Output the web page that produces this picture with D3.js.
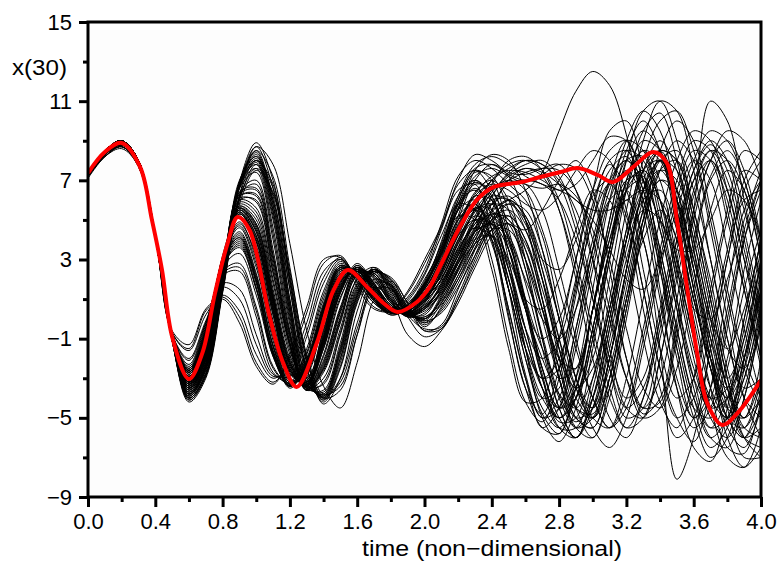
<!DOCTYPE html>
<meta charset="utf-8">
<title>x(30) ensemble</title>
<style>
body { margin: 0; background: #fff; }
.member { fill: none; stroke: #000; stroke-width: 1px; }
.truth { fill: none; stroke: #f00; stroke-width: 4px; stroke-linejoin: round; }
.axis text { font-family: "Liberation Sans", Arial, sans-serif; font-size: 22px; fill: #000; }
.axis line { stroke: #000; stroke-width: 3px; }
.axis path { display: none; }
.label { font-family: "Liberation Sans", Arial, sans-serif; font-size: 22px; fill: #000; }
</style>
<body>
<svg width="784" height="565"></svg>
<script src="https://d3js.org/d3.v7.min.js"></script>
<script>
// time axis of the ensemble output
var times = [0.0,0.1,0.2,0.3,0.4,0.5,0.6,0.7,0.8,0.9,1.0,1.1,1.2,1.3,1.4,1.5,1.6,1.7,1.8,1.9,2.0,
             2.1,2.2,2.3,2.4,2.5,2.6,2.7,2.8,2.9,3.0,3.1,3.2,3.3,3.4,3.5,3.6,3.7,3.8,3.9,4.0];

// ensemble members, x(30) at each time
var m01 = [7.3,8.4,8.9,7.9,4.2,-0.9,-3.1,-1.4,2.9,5.2,3.7,-0.1,-2.8,-3.0,-0.6,1.9,2.4,1.4,0.4,0.4,1.2, 2.7,4.4,5.8,6.6,6.9,7.0,6.8,6.0,4.0,1.0,-2.5,-5.0,-4.5,-1.0,3.0,6.5,8.5,8.0,5.5,2.0];
var m02 = [7.4,8.5,8.9,7.9,4.3,-0.8,-2.9,-1.1,3.1,4.9,3.0,-0.8,-3.2,-2.7,0.1,2.3,2.2,1.1,0.4,0.6,1.5, 2.8,4.5,5.5,4.8,2.0,-1.5,-4.0,-5.0,-3.5,0.5,5.0,8.5,10.0,8.5,4.5,0.0,-3.5,-5.0,-3.5,0.5];
var m03 = [7.3,8.4,8.8,7.8,4.1,-1.0,-3.0,-1.2,3.2,5.4,3.6,-0.3,-3.0,-3.1,-0.5,2.0,2.5,1.5,0.5,0.3,1.1, 2.9,4.8,6.2,6.0,4.0,1.0,-1.5,-3.0,-2.5,0.5,4.0,6.8,7.5,6.0,3.0,0.5,0.0,2.0,5.0,7.5];
var m04 = [7.3,8.3,8.8,7.9,4.2,-0.9,-3.0,-1.4,2.8,4.8,3.2,-0.6,-3.1,-2.8,-0.1,2.2,2.1,1.0,0.2,0.5,1.4, 2.6,4.2,5.0,4.2,1.5,-2.0,-4.5,-5.5,-4.0,-0.5,3.5,6.5,7.0,4.5,0.5,-3.5,-6.0,-6.5,-4.0,0.0];
var m05 = [7.4,8.5,9.0,8.0,4.2,-0.9,-3.1,-1.3,3.0,5.3,3.9,0.2,-2.6,-3.2,-0.9,1.7,2.5,1.6,0.6,0.4,1.1, 2.8,4.7,6.3,7.2,7.5,7.4,7.0,6.5,6.8,8.0,9.2,9.0,7.0,3.5,-0.5,-4.0,-5.5,-4.0,-0.5,3.5];
var m06 = [7.4,8.5,9.0,8.0,4.3,-0.8,-3.3,-1.8,2.6,5.8,5.2,1.5,-2.0,-3.4,-1.5,1.3,2.6,1.8,0.7,0.3,0.9, 1.8,3.4,4.8,5.2,3.8,0.8,-2.8,-5.2,-5.0,-1.5,3.0,7.0,9.0,8.5,5.5,1.5,-2.0,-4.0,-2.5,1.5];
var m07 = [7.3,8.4,8.9,7.9,4.2,-0.9,-3.4,-1.9,2.5,6.0,5.6,2.0,-1.6,-3.5,-1.9,1.0,2.6,2.0,0.8,0.2,0.7, 2.0,3.8,5.5,6.5,7.0,7.4,7.6,7.5,6.5,4.0,0.5,-3.0,-5.0,-4.5,-1.0,3.5,7.0,8.0,6.5,3.0];
var m08 = [7.4,8.5,8.9,7.9,4.2,-0.9,-3.2,-1.7,2.7,5.6,4.8,1.0,-2.3,-3.4,-1.2,1.5,2.7,1.7,0.6,0.4,1.1, 1.9,3.5,4.6,4.0,1.5,-2.0,-4.8,-5.8,-3.5,0.5,5.0,8.0,8.2,5.5,1.0,-3.0,-5.5,-5.0,-2.0,2.5];
var m09 = [7.3,8.4,8.9,8.0,4.3,-0.8,-3.3,-1.9,2.5,5.9,5.4,1.8,-1.8,-3.6,-1.8,1.1,2.4,1.9,0.9,0.1,0.6, 1.7,3.2,4.4,4.8,4.0,2.0,0.0,-1.0,0.5,3.5,6.5,8.5,8.0,5.0,1.0,-2.5,-4.5,-4.0,-1.0,3.0];
var m10 = [7.4,8.5,9.0,8.0,4.2,-0.9,-3.4,-1.8,2.6,5.7,5.0,1.3,-2.2,-3.3,-1.3,1.4,2.8,1.8,0.5,0.3,1.0, 2.0,3.9,5.4,6.2,6.0,4.5,2.0,-1.0,-3.5,-4.5,-2.5,1.5,5.5,8.0,8.5,6.5,3.0,-1.0,-4.0,-5.0];
var m11 = [7.3,8.4,8.9,7.9,4.1,-1.0,-3.6,-2.2,2.2,6.6,7.4,4.0,-0.8,-3.5,-3.0,-0.5,2.0,2.4,1.2,0.2,0.4, 1.3,2.8,4.2,4.9,4.2,1.8,-1.5,-4.5,-6.0,-4.5,-0.5,4.0,7.5,8.5,6.5,2.5,-1.5,-4.5,-5.0,-2.0];
var m12 = [7.4,8.5,9.0,8.0,4.2,-1.0,-3.7,-2.3,2.0,6.8,7.8,4.6,-0.3,-3.4,-3.3,-0.8,1.8,2.5,1.4,0.3,0.2, 1.5,3.2,5.0,6.4,7.3,7.8,8.0,7.2,5.0,1.5,-2.0,-4.0,-3.0,0.5,4.5,7.5,8.8,7.5,4.0,0.0];
var m13 = [7.3,8.4,8.9,7.9,4.1,-1.0,-3.5,-2.1,2.3,6.4,7.0,3.5,-1.2,-3.6,-2.7,-0.2,2.2,2.3,1.1,0.2,0.5, 1.2,2.6,3.8,4.2,3.0,0.5,-2.5,-4.5,-4.0,-1.0,3.5,8.0,10.5,11.0,9.0,5.5,2.0,-1.5,-2.5,-0.5];
var m14 = [7.4,8.5,9.0,8.0,4.2,-1.1,-3.6,-2.2,2.1,6.7,7.6,4.3,-0.6,-3.6,-3.2,-0.7,2.0,2.6,1.3,0.1,0.3, 1.4,3.0,4.6,5.3,4.8,2.5,-0.8,-3.8,-5.2,-4.0,-0.5,3.5,6.0,6.5,4.5,1.0,-2.5,-5.5,-6.5,-4.5];
var m15 = [7.3,8.4,8.9,7.9,4.1,-1.0,-3.5,-2.0,2.4,6.3,6.8,3.2,-1.4,-3.6,-2.5,0.0,2.3,2.2,1.0,0.3,0.6, 1.3,2.9,4.4,5.5,6.0,6.5,7.4,9.5,11.5,12.5,11.8,9.3,5.5,1.0,-3.0,-5.0,-3.5,0.5,4.5,7.0];
var m16 = [7.4,8.5,9.0,8.0,4.2,-1.0,-3.9,-2.6,1.8,6.9,8.9,7.0,2.0,-2.5,-4.2,-2.5,0.8,2.4,2.0,0.6,-0.3, 0.5,2.0,3.8,5.2,5.8,5.0,2.5,-1.0,-4.5,-6.0,-4.0,0.0,4.5,7.5,8.0,5.5,1.5,-2.5,-5.0,-4.0];
var m17 = [7.4,8.5,9.0,8.0,4.2,-1.1,-4.0,-2.7,1.6,6.8,8.7,6.6,1.5,-2.8,-4.1,-2.2,1.0,2.5,1.9,0.5,-0.2, 0.8,2.5,4.5,6.2,7.4,8.0,7.8,7.0,5.5,3.0,0.0,-3.0,-4.5,-3.0,1.0,5.0,8.0,9.0,7.5,4.0];
var m18 = [7.3,8.4,8.9,7.9,4.1,-1.0,-3.8,-2.5,1.9,7.0,8.2,6.2,1.0,-3.0,-4.0,-2.0,1.2,2.6,1.8,0.4,-0.1, 0.3,1.6,3.2,4.5,4.8,3.5,0.5,-3.0,-5.5,-6.0,-3.5,0.5,5.0,8.5,10.0,9.0,5.5,1.5,-2.0,-4.0];
var m19 = [7.4,8.5,9.0,8.0,4.2,-1.0,-4.0,-2.8,1.5,6.6,8.5,7.2,2.6,-2.0,-4.3,-3.0,0.4,2.3,2.1,0.8,-0.4, 0.6,2.2,4.0,5.3,5.0,3.0,0.0,-3.0,-5.0,-4.5,-1.0,3.0,5.5,5.0,2.5,-1.0,-4.5,-7.0,-7.5,-5.5];
var m20 = [7.3,8.4,8.9,7.9,4.2,-1.0,-3.9,-2.6,1.7,6.8,8.0,6.8,1.8,-2.6,-4.1,-2.4,0.9,2.4,2.0,0.6,-0.2, 0.4,1.8,3.6,5.0,5.5,4.5,2.0,-1.5,-3.5,-2.0,2.0,6.5,9.5,10.4,8.0,3.5,-1.5,-5.0,-6.0,-3.5];
var m21 = [7.2,8.3,8.8,7.8,4.1,-0.8,-2.5,-0.4,2.4,2.8,0.6,-2.4,-3.3,-1.8,1.0,2.7,2.2,1.0,0.3,0.6,1.8, 3.8,5.8,6.5,5.2,1.5,-2.8,-5.0,-4.0,-0.5,3.5,6.8,8.0,6.5,2.5,-2.0,-5.0,-4.0,0.0,4.0,6.5];
var m22 = [7.2,8.3,8.8,7.8,4.1,-0.8,-2.6,-0.6,2.6,3.3,1.2,-1.9,-3.4,-2.1,0.6,2.6,2.3,1.1,0.3,0.5,1.7, 3.6,6.0,7.6,7.8,7.3,7.0,7.3,7.8,7.6,6.0,3.0,-0.5,-3.5,-4.5,-2.5,1.5,5.5,7.5,6.5,3.0];
var m23 = [7.2,8.3,8.7,7.8,4.2,-0.8,-2.3,-0.2,2.2,2.4,0.1,-2.7,-3.2,-1.5,1.4,2.9,2.1,0.9,0.3,0.7,2.0, 3.5,5.2,5.0,2.5,-1.5,-4.2,-4.0,-1.0,3.0,6.2,7.0,4.8,0.5,-3.5,-6.0,-5.0,-1.5,3.0,6.5,8.0];
var m24 = [7.3,8.3,8.8,7.8,4.1,-0.8,-2.7,-0.7,2.7,3.6,1.5,-1.6,-3.5,-2.3,0.4,2.5,2.3,1.2,0.3,0.5,1.6, 3.9,6.2,7.0,6.0,3.5,1.0,0.5,2.0,4.5,6.5,6.0,3.0,-1.0,-4.2,-5.5,-3.0,1.5,5.5,8.5,8.0];
var m25 = [7.2,8.3,8.8,7.8,4.1,-0.8,-2.4,-0.3,2.3,2.6,0.4,-2.5,-3.3,-1.7,1.2,2.8,2.2,0.9,0.2,0.6,1.9, 3.7,5.5,6.0,4.0,0.0,-3.5,-5.5,-5.8,-3.0,1.5,6.0,9.0,10.5,9.5,6.0,1.5,-2.5,-4.5,-3.0,1.0];
var m26 = [7.2,8.2,8.7,7.7,4.2,-0.7,-1.6,0.2,1.2,0.4,-1.8,-3.0,-2.3,-0.2,2.4,3.0,1.9,0.8,0.4,1.1,2.5, 4.8,7.2,8.0,7.6,6.8,6.0,4.2,0.5,-3.0,-4.5,-2.0,2.5,6.5,8.0,6.0,1.5,-2.5,-4.0,-1.5,3.0];
var m27 = [7.2,8.2,8.7,7.7,4.2,-0.8,-2.0,-0.1,1.6,1.0,-1.3,-2.9,-2.6,-0.6,2.1,3.1,2.0,0.8,0.3,1.0,2.3, 4.5,6.5,6.8,4.5,0.2,-3.5,-4.8,-2.5,1.8,5.8,7.8,6.5,2.5,-1.5,-4.0,-3.0,1.0,5.0,7.5,7.0];
var m28 = [7.1,8.2,8.7,7.7,4.2,-0.6,-1.3,0.5,1.1,0.1,-2.2,-3.2,-2.0,0.3,2.8,3.2,1.8,0.6,0.4,1.3,2.8, 4.6,7.0,8.3,8.0,7.4,7.3,7.6,7.8,6.5,3.0,-1.5,-4.5,-5.0,-2.0,2.5,6.2,8.0,6.0,2.0,-2.0];
var m29 = [7.2,8.3,8.7,7.7,4.1,-0.8,-2.1,-0.2,1.8,1.5,-0.8,-2.8,-2.9,-0.9,1.8,3.0,2.1,0.9,0.3,0.9,2.2, 4.2,5.8,5.5,3.0,-1.0,-4.2,-5.2,-3.0,1.2,5.0,6.8,5.2,1.5,-2.5,-5.0,-6.2,-3.5,1.5,5.5,7.0];
var m30 = [7.2,8.2,8.6,7.7,4.2,-0.7,-1.5,0.4,1.0,-0.2,-2.4,-3.3,-1.8,0.6,3.0,3.1,1.6,0.5,0.4,1.4,3.0, 4.7,6.8,7.5,6.5,5.0,4.5,5.5,7.0,8.0,6.5,2.5,-2.0,-4.8,-4.0,0.0,5.5,11.0,10.0,6.0,1.5];
var m31 = [7.3,8.4,8.9,7.9,4.2,-0.9,-3.2,-1.5,2.8,5.5,4.2,0.6,-2.6,-3.3,-1.0,1.8,2.5,1.6,0.6,0.3,1.0, 2.2,4.0,5.5,5.8,4.0,0.5,-3.0,-5.0,-4.0,-0.5,3.5,6.5,7.5,6.0,2.5,-1.5,-4.0,-3.5,0.0,4.0];
var m32 = [7.3,8.4,8.9,7.9,4.2,-0.9,-3.2,-1.6,2.7,5.4,4.0,0.4,-2.7,-3.2,-0.8,1.9,2.4,1.5,0.5,0.4,1.2, 2.4,4.3,6.0,7.0,7.6,8.0,7.8,6.8,4.5,1.0,-2.5,-4.5,-3.5,0.0,4.0,7.5,9.0,8.0,4.5,0.5];
var m33 = [7.4,8.5,8.9,7.9,4.2,-0.8,-3.1,-1.4,2.9,5.6,4.4,0.8,-2.5,-3.4,-1.1,1.6,2.6,1.7,0.6,0.2,0.8, 2.0,3.6,4.6,4.2,2.0,-1.0,-3.5,-4.5,-3.0,0.5,4.5,8.0,9.5,8.5,5.0,1.0,-2.0,-3.5,-2.0,1.5];
var m34 = [7.3,8.4,8.9,7.9,4.2,-0.9,-3.3,-1.6,2.7,5.5,4.5,1.0,-2.3,-3.4,-1.3,1.5,2.6,1.7,0.7,0.3,0.9, 2.3,4.2,5.6,5.5,3.5,0.5,-2.0,-3.8,-4.5,-3.0,0.5,4.0,6.5,7.5,6.0,3.0,0.0,-1.5,0.5,4.0];
var m35 = [7.3,8.4,8.8,7.9,4.2,-0.9,-3.2,-1.5,2.8,5.3,3.9,0.2,-2.8,-3.2,-0.7,2.0,2.4,1.4,0.5,0.5,1.3, 2.1,3.8,5.0,4.8,2.8,-0.5,-3.5,-5.5,-5.5,-3.0,1.0,5.5,9.0,11.0,10.5,7.5,3.0,-1.0,-3.5,-3.0];
var m36 = [7.3,8.3,8.8,7.8,4.2,-0.8,-2.8,-0.9,3.0,4.4,2.3,-1.4,-3.3,-2.5,0.3,2.4,2.3,1.2,0.4,0.7,1.6, 3.3,5.5,6.8,6.5,4.2,0.8,-2.5,-4.5,-3.5,0.5,4.5,7.0,7.2,4.5,0.5,-3.0,-4.5,-2.0,2.5,6.0];
var m37 = [7.3,8.3,8.8,7.8,4.2,-0.8,-2.9,-1.0,3.0,4.6,2.6,-1.1,-3.3,-2.6,0.1,2.3,2.3,1.2,0.4,0.6,1.5, 3.0,5.0,5.5,3.8,0.5,-3.0,-5.5,-4.5,-1.0,3.0,6.0,6.5,4.0,0.0,-3.5,-5.5,-4.5,-0.5,4.0,7.0];
var m38 = [7.3,8.3,8.8,7.8,4.2,-0.8,-2.7,-0.8,2.9,4.2,2.0,-1.7,-3.4,-2.3,0.5,2.5,2.2,1.1,0.4,0.7,1.7, 3.2,5.6,7.2,7.6,7.2,6.8,6.6,6.8,6.2,4.5,1.5,-2.0,-4.5,-4.2,-0.5,4.0,7.2,8.5,7.0,3.5];
var m39 = [7.3,8.4,8.8,7.8,4.2,-0.8,-2.9,-1.1,3.1,4.7,2.8,-0.9,-3.2,-2.7,-0.1,2.2,2.4,1.3,0.4,0.6,1.5, 3.1,5.0,5.8,4.5,1.5,-1.5,-3.0,-2.0,1.5,5.0,7.5,8.2,6.0,1.5,-3.5,-6.5,-7.2,-4.5,0.0,4.0];
var m40 = [7.3,8.3,8.8,7.8,4.2,-0.7,-2.8,-0.8,2.9,4.1,1.9,-1.8,-3.4,-2.2,0.6,2.6,2.2,1.0,0.3,0.8,1.8, 3.3,5.8,7.0,6.2,3.5,0.5,-1.0,0.0,3.0,6.5,9.5,10.0,7.5,3.0,-1.5,-4.5,-5.0,-2.5,1.5,4.5];
var m41 = [7.4,8.5,9.0,8.0,4.2,-1.1,-4.1,-2.9,1.5,6.2,8.0,6.6,2.2,-2.0,-4.0,-3.6,-0.8,1.8,1.7,0.5,-0.6, -0.5,1.0,3.0,4.8,5.8,5.5,3.5,0.0,-3.5,-5.0,-3.0,1.0,5.0,7.0,6.5,3.5,-0.5,-4.0,-6.0,-5.5];
var m42 = [7.4,8.5,9.0,8.0,4.2,-1.1,-4.2,-3.0,1.3,6.2,8.7,7.8,3.8,-0.6,-3.4,-4.5,-2.2,1.0,1.9,0.8,-0.6, -0.3,1.5,3.5,5.5,7.0,7.6,7.2,5.5,2.5,-1.0,-4.0,-5.5,-4.0,-0.5,3.5,7.0,8.5,7.0,3.5,-0.5];
var m43 = [7.4,8.5,9.0,8.0,4.2,-1.1,-4.0,-2.8,1.4,5.8,7.5,6.3,2.0,-2.2,-3.9,-3.2,-0.5,1.6,1.0,-0.8,-1.4, -0.6,0.8,2.6,4.2,4.8,3.8,1.0,-2.5,-5.0,-5.5,-3.0,1.0,4.0,5.5,4.0,0.5,-3.5,-6.5,-6.8,-4.0];
var m44 = [7.4,8.5,9.0,8.0,4.2,-1.0,-4.0,-2.8,1.6,6.0,7.8,6.0,1.5,-2.5,-4.0,-3.0,-0.2,2.0,1.6,0.2,-0.5, -0.4,1.2,3.2,5.0,6.0,5.2,2.5,-1.5,-4.5,-5.0,-2.0,2.5,6.5,8.0,6.5,2.5,-2.0,-6.0,-7.5,-6.5];
var m45 = [7.4,8.5,9.0,8.0,4.3,-1.1,-4.1,-2.9,1.4,6.1,7.6,6.4,2.4,-1.8,-3.8,-3.4,-0.8,1.5,1.5,0.1,-0.9, -0.5,1.0,2.8,4.5,5.2,4.0,1.0,-2.0,-2.5,0.5,4.0,6.0,4.0,-1.5,-8.1,-6.0,-1.5,3.0,6.0,6.5];
var m46 = [7.3,8.4,8.9,7.9,4.2,-0.9,-3.2,-1.6,2.8,5.5,4.4,0.7,-2.5,-3.3,-1.1,1.7,2.5,1.6,0.6,0.3,1.0, 2.6,5.0,7.0,7.8,7.2,5.0,1.0,-3.0,-5.5,-5.0,-2.0,2.0,5.5,7.5,7.0,4.0,0.0,-3.5,-5.5,-4.0];
var m47 = [7.3,8.4,8.9,7.9,4.2,-0.9,-3.3,-1.7,2.7,5.6,4.6,0.9,-2.4,-3.4,-1.2,1.6,2.6,1.6,0.6,0.2,0.9, 2.3,4.5,6.4,7.0,6.0,3.0,-1.0,-4.5,-6.0,-4.0,0.0,4.0,7.0,8.5,8.0,5.0,1.0,-3.0,-5.5,-6.0];
var m48 = [7.4,8.5,8.9,7.9,4.2,-0.9,-3.2,-1.5,2.9,5.4,4.2,0.5,-2.6,-3.3,-1.0,1.8,2.5,1.5,0.5,0.3,1.1, 2.5,4.6,6.2,6.8,6.5,5.8,5.5,6.2,7.5,8.5,8.0,5.5,1.5,-2.5,-5.0,-4.0,-0.5,3.5,7.0,8.5];
var m49 = [7.3,8.4,8.8,7.9,4.2,-0.8,-3.1,-1.5,2.8,5.3,4.1,0.4,-2.7,-3.2,-0.9,1.9,2.4,1.5,0.5,0.4,1.1, 2.2,4.0,5.2,4.6,2.0,-1.5,-4.0,-3.5,-0.5,3.5,7.0,9.0,8.5,6.0,2.0,-2.0,-5.0,-6.0,-4.0,0.0];
var m50 = [7.3,8.4,8.9,7.9,4.2,-0.9,-3.3,-1.7,2.6,5.6,4.7,1.1,-2.2,-3.4,-1.4,1.4,2.6,1.7,0.7,0.3,0.9, 2.4,4.4,5.6,5.0,2.5,-0.5,-2.0,-1.0,2.0,5.5,8.0,8.5,6.5,3.0,-1.0,-4.5,-6.5,-5.5,-2.0,2.0];
var m51 = [7.4,8.5,9.0,8.0,4.2,-0.9,-3.2,-1.6,2.8,5.7,4.8,1.2,-2.1,-3.5,-1.5,1.3,2.7,1.8,0.7,0.2,0.8, 2.7,5.2,7.5,8.3,8.0,6.5,3.5,0.0,-3.0,-5.0,-5.5,-3.0,1.0,5.0,8.0,9.5,9.0,6.5,3.0,-1.0];
var m52 = [7.4,8.5,9.0,8.0,4.2,-0.9,-3.5,-2.0,2.4,6.2,6.2,2.6,-1.2,-3.6,-2.3,0.4,2.4,2.2,0.9,0.2,0.6, 1.6,3.2,4.8,5.8,5.5,3.5,0.5,-2.5,-4.5,-4.8,-2.0,2.5,6.5,8.5,8.0,5.0,1.0,-3.0,-6.0,-7.0];
var m53 = [7.3,8.4,8.9,7.9,4.2,-1.0,-3.5,-2.0,2.3,6.3,6.5,3.0,-0.9,-3.6,-2.5,0.1,2.3,2.3,1.0,0.2,0.5, 1.8,3.6,5.6,7.0,7.8,8.0,7.5,6.0,3.0,-0.5,-3.5,-5.5,-5.0,-2.0,2.0,5.5,8.0,9.5,9.0,7.0];
var m54 = [7.4,8.5,9.0,8.0,4.2,-0.9,-3.4,-1.9,2.5,6.1,5.9,2.3,-1.4,-3.5,-2.1,0.6,2.5,2.1,0.8,0.3,0.7, 1.5,3.0,4.4,4.8,3.5,0.5,-3.0,-5.5,-6.0,-3.5,0.5,4.5,7.5,8.0,6.0,2.5,-1.0,-3.0,-1.0,3.0];
var m55 = [7.3,8.4,8.9,7.9,4.1,-1.0,-3.6,-2.1,2.3,6.4,6.6,3.2,-0.7,-3.5,-2.6,-0.1,2.2,2.3,1.1,0.2,0.5, 1.7,3.4,5.0,6.0,6.0,4.8,3.0,2.5,4.0,6.5,8.5,9.0,7.0,3.5,-0.5,-4.0,-6.0,-5.0,-2.0,1.5];
var m56 = [7.4,8.5,9.0,8.0,4.2,-0.9,-3.5,-2.0,2.4,6.0,6.0,2.4,-1.3,-3.6,-2.2,0.5,2.5,2.1,0.8,0.2,0.6, 1.6,3.3,5.2,6.5,7.0,6.5,4.5,1.5,-1.5,-4.0,-5.5,-4.5,-1.0,3.0,6.5,8.5,8.0,5.0,1.5,-2.0];
var m57 = [7.3,8.4,8.9,7.9,4.2,-0.9,-3.4,-1.9,2.5,6.2,6.3,2.8,-1.0,-3.6,-2.4,0.3,2.4,2.2,0.9,0.1,0.5, 1.4,2.8,4.0,4.2,2.5,-0.5,-3.5,-5.0,-4.0,-0.5,3.5,7.0,8.5,7.0,3.0,-1.0,-4.0,-5.0,-3.0,0.5];
var m58 = [7.2,8.3,8.8,7.8,4.1,-0.7,-2.6,-0.6,2.8,3.9,1.8,-1.7,-3.4,-2.2,0.6,2.6,2.2,1.0,0.3,0.6,1.7, 3.4,5.8,7.4,7.2,5.5,2.5,-1.0,-4.0,-5.5,-4.5,-1.5,2.5,6.0,8.0,7.5,4.5,0.5,-3.5,-6.0,-6.5];
var m59 = [7.2,8.3,8.8,7.8,4.1,-0.7,-2.7,-0.7,2.9,4.1,2.1,-1.4,-3.4,-2.4,0.4,2.5,2.3,1.1,0.3,0.6,1.6, 3.6,6.2,7.8,8.2,7.8,7.2,6.8,6.5,6.0,5.0,3.5,2.0,1.5,3.0,5.5,8.0,9.5,9.0,7.0,4.0];
var m60 = [7.2,8.3,8.8,7.8,4.2,-0.7,-2.5,-0.5,2.7,3.7,1.5,-1.9,-3.4,-2.0,0.8,2.7,2.2,1.0,0.3,0.7,1.8, 3.2,5.2,5.8,4.0,0.5,-3.0,-5.0,-4.5,-1.5,2.5,6.0,7.5,6.0,2.5,-1.5,-5.0,-7.0,-6.0,-2.5,2.0];
var m61 = [7.3,8.3,8.8,7.8,4.1,-0.8,-2.7,-0.8,2.9,4.3,2.2,-1.3,-3.3,-2.5,0.3,2.4,2.3,1.2,0.4,0.6,1.6, 3.5,6.0,7.5,7.0,4.5,1.0,-2.5,-5.0,-6.0,-4.0,0.0,4.0,7.5,9.0,7.5,4.0,0.0,-3.5,-5.0,-3.0];
var m62 = [7.2,8.3,8.8,7.8,4.1,-0.7,-2.6,-0.5,2.7,3.8,1.6,-1.8,-3.4,-2.1,0.7,2.7,2.2,0.9,0.3,0.7,1.8, 3.3,5.5,6.6,5.5,2.5,-1.0,-3.0,-2.5,0.5,4.0,7.0,8.0,7.0,5.0,3.5,3.5,5.0,6.5,6.0,4.0];
var m63 = [7.2,8.3,8.8,7.8,4.1,-0.7,-2.6,-0.6,2.8,4.0,1.9,-1.6,-3.4,-2.3,0.5,2.6,2.2,1.0,0.3,0.6,1.7, 3.4,5.6,6.9,6.2,3.0,-1.5,-5.0,-6.2,-4.5,-1.0,3.0,6.5,8.5,8.0,5.5,2.0,-2.0,-5.0,-6.0,-4.5];
var m64 = [7.4,8.5,9.0,8.0,4.2,-1.0,-3.8,-2.4,2.0,6.8,8.2,5.5,0.4,-3.3,-3.8,-1.6,1.4,2.5,1.6,0.3,0.0, 1.0,2.5,4.2,5.8,6.8,6.8,5.5,2.5,-1.0,-4.0,-5.5,-4.0,-0.5,3.5,7.0,9.0,8.5,5.5,1.5,-2.5];
var m65 = [7.4,8.5,9.0,8.0,4.2,-1.0,-3.7,-2.3,2.1,6.7,8.0,5.2,0.1,-3.4,-3.7,-1.4,1.6,2.5,1.5,0.3,0.1, 0.8,2.2,3.8,5.0,5.2,4.0,1.5,-1.5,-4.0,-5.0,-3.5,0.5,4.5,7.5,9.0,8.0,4.5,0.0,-4.0,-6.0];
var m66 = [7.3,8.4,8.9,7.9,4.2,-1.0,-3.8,-2.5,1.9,6.9,8.4,5.8,0.7,-3.2,-3.9,-1.8,1.2,2.5,1.7,0.4,-0.1, 1.1,2.8,4.6,6.2,7.2,7.6,7.4,6.8,6.0,5.5,5.5,6.0,6.5,6.0,4.0,1.0,-2.5,-5.0,-5.5,-3.0];
var m67 = [7.4,8.5,9.0,8.0,4.2,-1.0,-3.7,-2.3,2.1,6.6,7.9,5.0,-0.1,-3.5,-3.6,-1.2,1.7,2.4,1.4,0.2,0.1, 0.9,2.4,4.0,5.4,6.0,5.2,3.0,0.0,-3.0,-5.5,-6.5,-5.0,-1.5,2.5,6.0,8.0,7.0,3.5,-0.5,-4.0];
var m68 = [7.4,8.5,9.0,8.0,4.2,-1.1,-3.9,-2.5,1.9,6.8,8.3,5.7,0.6,-3.2,-3.9,-1.7,1.3,2.5,1.7,0.4,0.0, 1.0,2.6,4.4,5.8,6.2,5.0,2.0,-2.0,-5.0,-5.5,-3.0,1.0,5.0,7.0,6.0,3.0,-1.0,-4.5,-7.0,-7.0];
var m69 = [7.3,8.4,8.9,7.9,4.2,-1.0,-3.8,-2.4,2.0,6.7,8.1,5.4,0.3,-3.3,-3.8,-1.5,1.5,2.5,1.6,0.3,0.0, 0.7,2.0,3.5,4.5,4.5,3.0,0.5,-2.0,-3.5,-2.5,0.5,4.5,8.0,10.0,10.5,8.5,5.0,1.0,-2.5,-4.5];
var m70 = [7.4,8.5,9.0,8.0,4.2,-1.0,-3.8,-2.4,2.0,6.9,8.5,6.0,0.9,-3.0,-4.0,-2.0,1.1,2.5,1.8,0.5,0.0, 1.2,3.0,5.0,6.8,8.0,8.2,7.5,5.5,2.0,-2.0,-5.0,-6.0,-4.0,0.0,4.0,7.0,8.0,6.5,3.0,0.0];

var members = [m01,m02,m03,m04,m05,m06,m07,m08,m09,m10,m11,m12,m13,m14,m15,
               m16,m17,m18,m19,m20,m21,m22,m23,m24,m25,m26,m27,m28,m29,m30,
               m31,m32,m33,m34,m35,m36,m37,m38,m39,m40,m41,m42,m43,m44,m45,
               m46,m47,m48,m49,m50,m51,m52,m53,m54,m55,m56,m57,m58,m59,m60,
               m61,m62,m63,m64,m65,m66,m67,m68,m69,m70];

// the red trajectory, read at its own times
var redT = [0,0.1,0.2,0.31,0.38,0.44,0.5,0.6,0.68,0.755,0.83,0.89,0.96,1.08,1.16,1.24,1.36,1.46,1.545,1.66,1.755,1.84,1.955,2.03,2.09,2.21,2.31,2.41,2.57,2.69,2.81,2.91,3.03,3.12,3.24,3.36,3.44,3.5,3.56,3.62,3.68,3.77,3.86,4.0];
var redX = [7.37,8.43,8.89,7.67,5.0,2.47,-0.9,-3.04,-1.72,1.3,3.83,5.15,4.49,0.09,-2.23,-3.44,-1.22,1.46,2.47,1.6,0.8,0.35,0.85,1.6,2.6,4.64,6.0,6.66,6.9,7.17,7.42,7.62,7.27,6.91,7.67,8.43,7.87,5.0,1.6,-1.72,-4.25,-5.36,-4.76,-3.09];

var xMajor = [0,0.4,0.8,1.2,1.6,2.0,2.4,2.8,3.2,3.6,4.0];
var xMinor = [0.2,0.6,1.0,1.4,1.8,2.2,2.6,3.0,3.4,3.8];
var yMajor = [-9,-5,-1,3,7,11,15];
var yMinor = [-7,-3,1,5,9,13];

var svg = d3.select("svg"),
    plotL = 88, plotR = 761, plotT = 22, plotB = 497;

var x = d3.scaleLinear().domain([0, 4]).range([plotL, plotR]),
    y = d3.scaleLinear().domain([-9, 15]).range([plotB, plotT]);

svg.append("rect")
    .attr("x", plotL).attr("y", plotT)
    .attr("width", plotR - plotL).attr("height", plotB - plotT)
    .attr("fill", "#fdfdfd");

svg.append("clipPath").attr("id", "clip")
  .append("rect")
    .attr("x", plotL).attr("y", plotT)
    .attr("width", plotR - plotL).attr("height", plotB - plotT);

var line = d3.line()
    .curve(d3.curveCatmullRom)
    .x(function(d) { return x(d[0]); })
    .y(function(d) { return y(d[1]); });

var plot = svg.append("g").attr("clip-path", "url(#clip)");

plot.selectAll(".member")
    .data(members)
  .enter().append("path")
    .attr("class", "member")
    .attr("d", function(m) { return line(m.map(function(v, i) { return [times[i], v]; })); });

plot.append("path")
    .attr("class", "truth")
    .attr("d", line(redT.map(function(t, i) { return [t, redX[i]]; })));

// axes: long ticks with labels, short ticks between
svg.append("g").attr("class", "axis")
    .attr("transform", "translate(0," + plotB + ")")
    .call(d3.axisBottom(x).tickValues(xMajor).tickSize(10).tickPadding(6).tickFormat(d3.format(".1f")));
svg.append("g").attr("class", "axis")
    .attr("transform", "translate(0," + plotB + ")")
    .call(d3.axisBottom(x).tickValues(xMinor).tickSize(5).tickFormat(""));
svg.append("g").attr("class", "axis")
    .attr("transform", "translate(" + plotL + ",0)")
    .call(d3.axisLeft(y).tickValues(yMajor).tickSize(9).tickPadding(7));
svg.append("g").attr("class", "axis")
    .attr("transform", "translate(" + plotL + ",0)")
    .call(d3.axisLeft(y).tickValues(yMinor).tickSize(5).tickFormat(""));

svg.append("rect")
    .attr("x", plotL).attr("y", plotT)
    .attr("width", plotR - plotL).attr("height", plotB - plotT)
    .attr("fill", "none").attr("stroke", "#000").attr("stroke-width", 3);

svg.append("text").attr("class", "label")
    .attr("x", 12).attr("y", 75)
    .attr("textLength", 55).attr("lengthAdjust", "spacingAndGlyphs")
    .text("x(30)");

svg.append("text").attr("class", "label")
    .attr("x", 492).attr("y", 556)
    .attr("text-anchor", "middle")
    .attr("textLength", 260).attr("lengthAdjust", "spacingAndGlyphs")
    .text("time (non\u2212dimensional)");
</script>
</body>
